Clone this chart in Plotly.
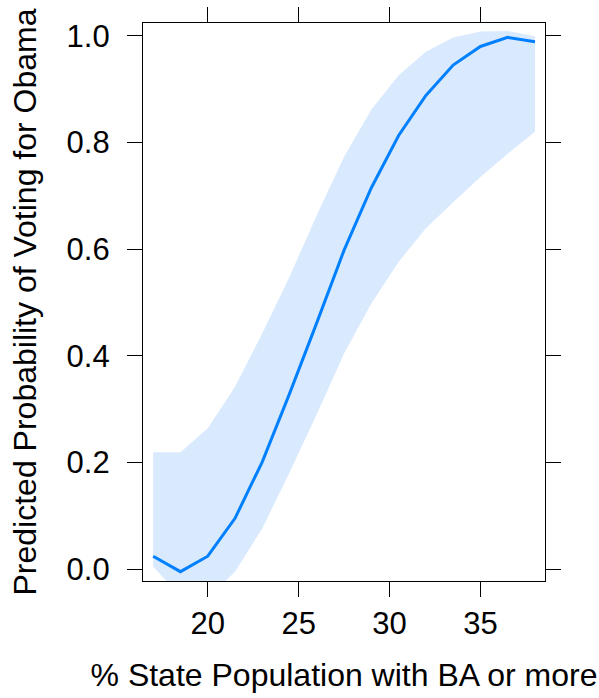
import plotly.graph_objects as go

# Data
ba_pct = [17, 18.5, 20, 21.5, 23, 24.5, 26, 27.5, 29, 30.5, 32, 33.5, 35, 36.5, 38]
prob_fit = [0.024, -0.005, 0.024, 0.095, 0.201, 0.329, 0.462, 0.598, 0.715, 0.813,
            0.888, 0.945, 0.980, 0.997, 0.989]
prob_upper = [0.219, 0.219, 0.264, 0.342, 0.442, 0.548, 0.664, 0.773, 0.862, 0.926,
              0.970, 0.997, 1.008, 1.009, 0.999]
prob_lower = [0.004, -0.05, -0.055, -0.005, 0.076, 0.181, 0.290, 0.404, 0.498, 0.576,
              0.639, 0.688, 0.735, 0.779, 0.820]

x_ticks = [20, 25, 30, 35]
y_ticks = [0.0, 0.2, 0.4, 0.6, 0.8, 1.0]
y_tick_labels = ["0.0", "0.2", "0.4", "0.6", "0.8", "1.0"]

LINE_COL = "#0080FF"
BAND_COL = "#DAEAFE"
FONT = "Liberation Sans, Arial, Helvetica, sans-serif"

fig = go.Figure()
fig.add_trace(go.Scatter(
    x=ba_pct + ba_pct[::-1],
    y=prob_upper + prob_lower[::-1],
    fill="toself", fillcolor=BAND_COL,
    line=dict(width=0), mode="lines", hoverinfo="skip", showlegend=False,
))
fig.add_trace(go.Scatter(
    x=ba_pct, y=prob_fit, mode="lines",
    line=dict(color=LINE_COL, width=3), showlegend=False,
))

axis_common = dict(
    showgrid=False, zeroline=False, showline=True, linecolor="black", linewidth=1.3,
    mirror="ticks", ticks="outside", ticklen=15, tickwidth=1.3, tickcolor="black",
    tickfont=dict(family=FONT, size=31, color="black"),
)

fig.update_xaxes(
    range=[16.44, 38.55], tickvals=x_ticks, ticktext=[str(v) for v in x_ticks],
    title=dict(text="% State Population with BA or more",
               font=dict(family=FONT, size=32, color="black"), standoff=23),
    ticklabelstandoff=0,
    **axis_common,
)
fig.update_yaxes(
    range=[-0.0225, 1.024], tickvals=y_ticks, ticktext=y_tick_labels,
    title=dict(text="Predicted Probability of Voting for Obama",
               font=dict(family=FONT, size=32, color="black"), standoff=20),
    ticklabelstandoff=11,
    **axis_common,
)

fig.update_layout(
    width=599, height=698,
    margin=dict(l=142.5, r=54, t=22.7, b=117, autoexpand=False),
    plot_bgcolor="white", paper_bgcolor="white",
    font=dict(family=FONT, color="black"),
)

fig.write_html("out.html", config={"displayModeBar": False},
               post_script="document.body.style.margin='0';")
